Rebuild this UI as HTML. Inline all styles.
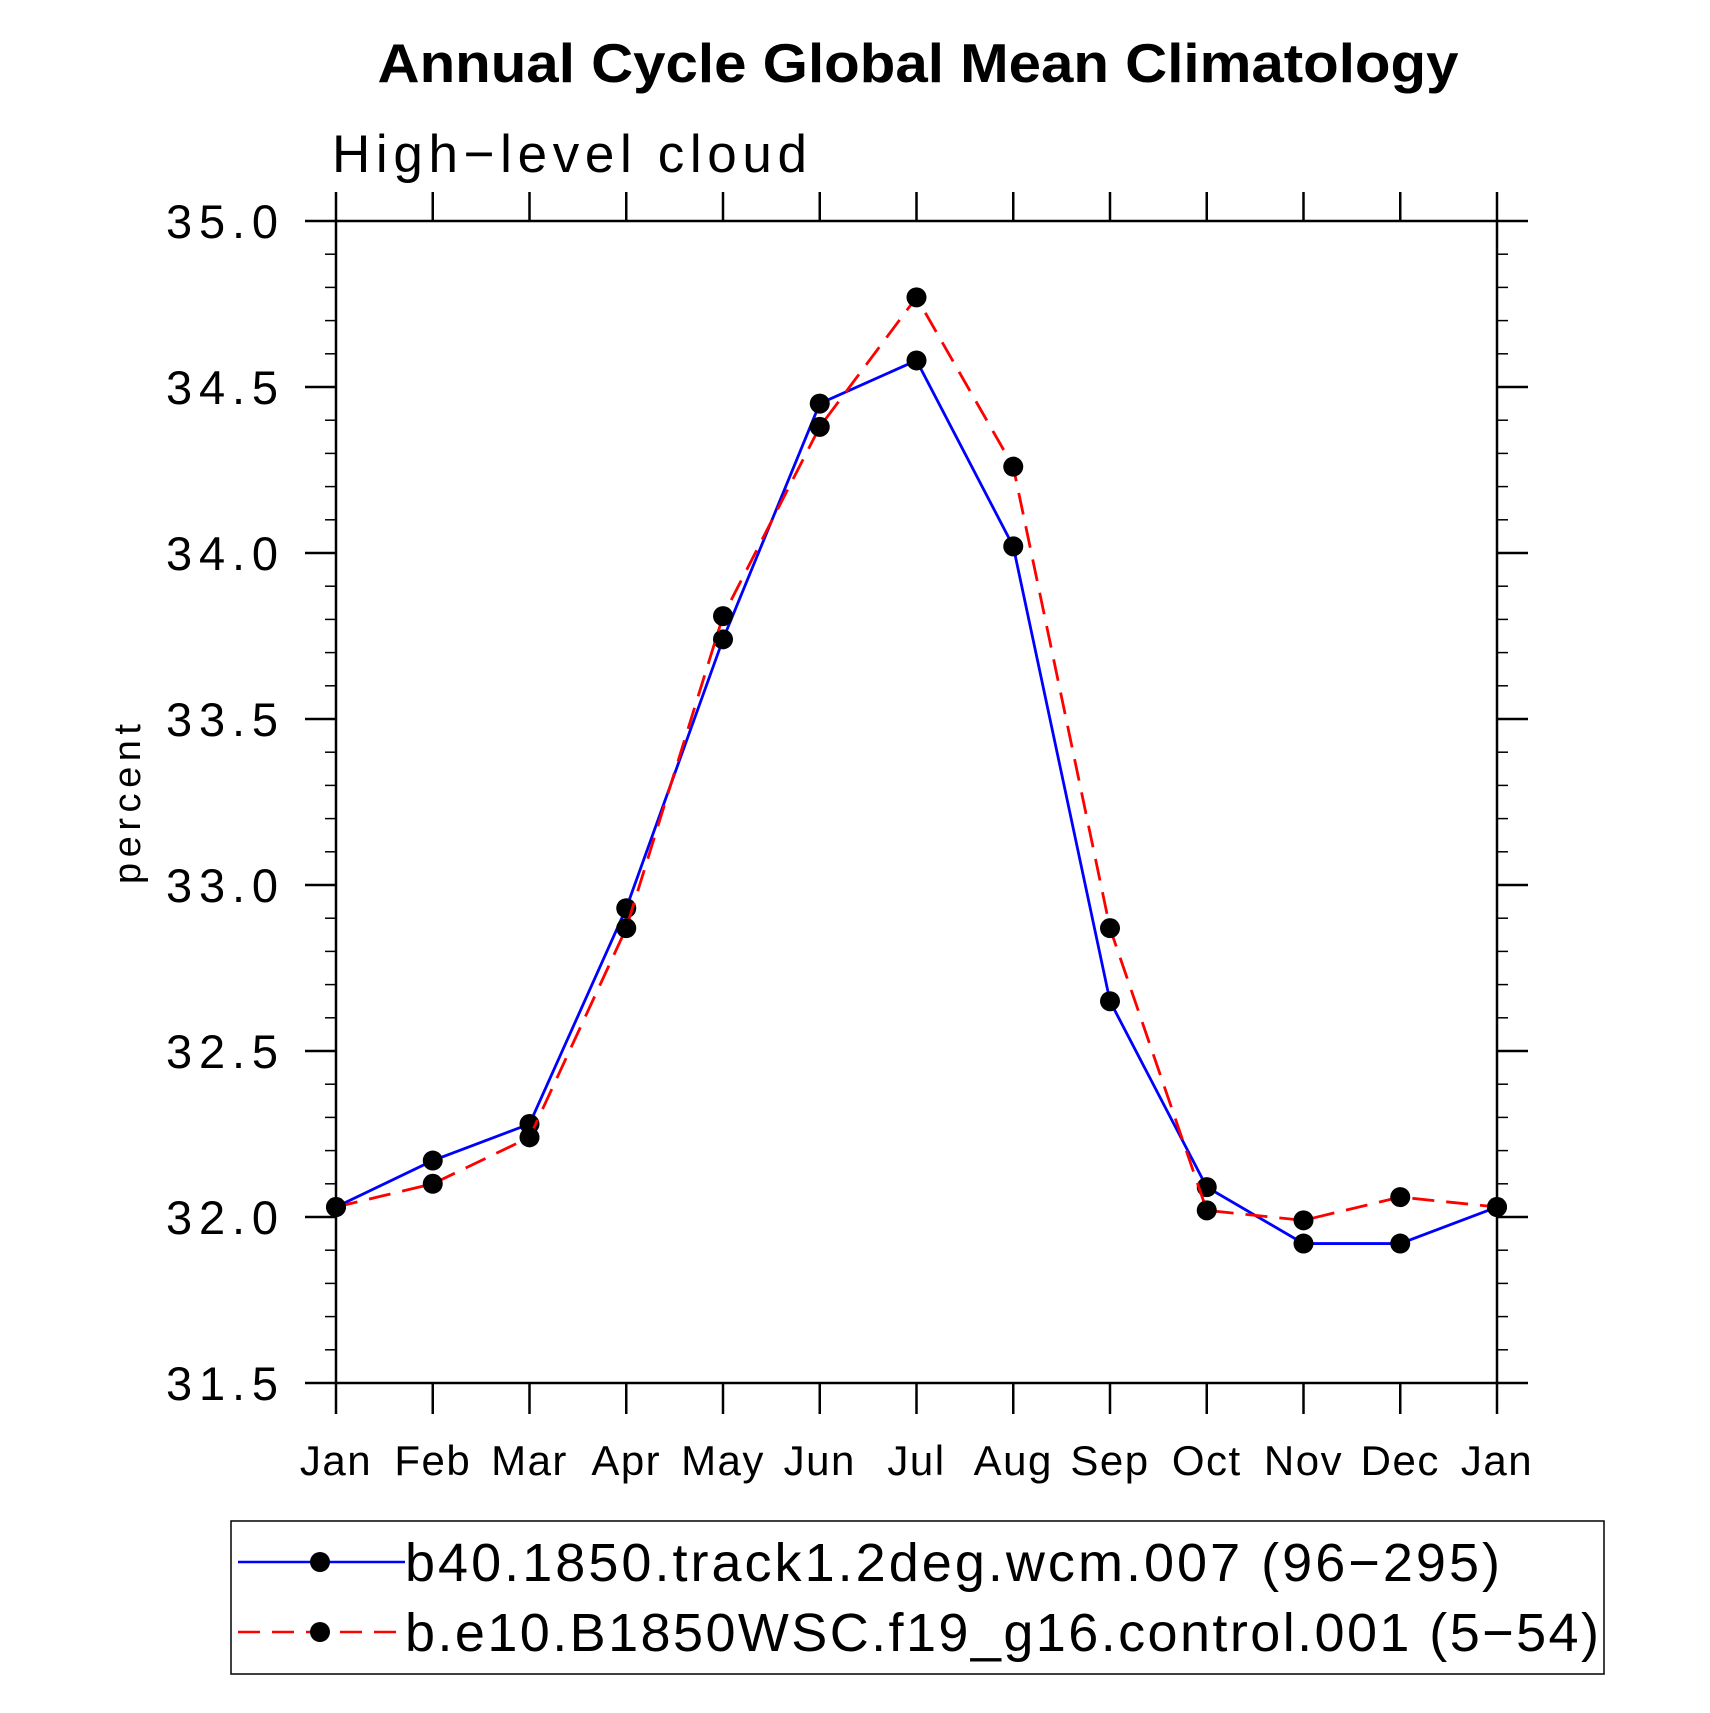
<!DOCTYPE html>
<html><head><meta charset="utf-8"><style>
html,body{margin:0;padding:0;background:#fff;}
svg{display:block;font-family:"Liberation Sans",sans-serif;}
</style></head><body>
<svg id="chart" width="1710" height="1713" viewBox="0 0 1710 1713" xmlns="http://www.w3.org/2000/svg">
<text x="918" y="82" text-anchor="middle" font-size="55" font-weight="bold" textLength="1081" lengthAdjust="spacingAndGlyphs">Annual Cycle Global Mean Climatology</text>
<text x="332" y="172" font-size="53" textLength="475" lengthAdjust="spacing">High−level cloud</text>
<text transform="translate(140,804) rotate(-90)" text-anchor="middle" font-size="38" textLength="160" lengthAdjust="spacing">percent</text>
<g id="axes"></g>
<g id="series"></g>
<g id="legend">
<rect x="231" y="1521" width="1373" height="153" fill="none" stroke="#000" stroke-width="1.5"/>
<line x1="238" y1="1562" x2="405" y2="1562" stroke="#0000ff" stroke-width="2.5"/>
<circle cx="320" cy="1562" r="10" fill="#000"/>
<text x="405" y="1581" font-size="54" textLength="1095" lengthAdjust="spacing">b40.1850.track1.2deg.wcm.007 (96−295)</text>
<line x1="238" y1="1632" x2="405" y2="1632" stroke="#ff0000" stroke-width="2.5" stroke-dasharray="22,12"/>
<circle cx="320" cy="1632" r="10" fill="#000"/>
<text x="405" y="1651" font-size="54" textLength="1194" lengthAdjust="spacing">b.e10.B1850WSC.f19_g16.control.001 (5−54)</text>
</g>
</svg>
<script>
const months = ["Jan","Feb","Mar","Apr","May","Jun","Jul","Aug","Sep","Oct","Nov","Dec","Jan"];
const blueValues = [32.03,32.17,32.28,32.93,33.74,34.45,34.58,34.02,32.65,32.09,31.92,31.92,32.03];
const redValues = [32.03,32.10,32.24,32.87,33.81,34.38,34.77,34.26,32.87,32.02,31.99,32.06,32.03];
const yTickLabels = ["31.5","32.0","32.5","33.0","33.5","34.0","34.5","35.0"];
const yMin = 31.5, yMax = 35.0;

const L=336,R=1497,T=221,B=1383;
const NS="http://www.w3.org/2000/svg";
const xS=i=>L+(R-L)*i/(months.length-1);
const yS=v=>B-(B-T)*(v-yMin)/(yMax-yMin);
function mk(tag,attrs,parent){const e=document.createElementNS(NS,tag);for(const k in attrs)e.setAttribute(k,attrs[k]);parent.appendChild(e);return e;}
const ax=document.getElementById('axes');
const frame=mk('rect',{x:L,y:T,width:R-L,height:B-T,fill:'none',stroke:'#000','stroke-width':2.5},ax);


yTickLabels.forEach(t=>{const y=yS(parseFloat(t));
 const a=mk('line',{x1:L-31,y1:y,x2:L,y2:y,stroke:'#000','stroke-width':2.5},ax);
 
 
 const b=mk('line',{x1:R,y1:y,x2:R+31,y2:y,stroke:'#000','stroke-width':2.5},ax);
 
 
 const tx=mk('text',{x:278,y:y+17,'text-anchor':'end','font-size':47,textLength:112,lengthAdjust:'spacing'},ax);
 tx.textContent=t;
 
 
});
for(let v=yMin;v<yMax-0.01;v+=0.1){const y=yS(v);
 const m=mk('line',{x1:L-11,y1:y,x2:L,y2:y,stroke:'#000','stroke-width':1.5},ax);
 
 
 const n=mk('line',{x1:R,y1:y,x2:R+11,y2:y,stroke:'#000','stroke-width':1.5},ax);
 
 
}
months.forEach((m,i)=>{const x=xS(i);
 const a=mk('line',{x1:x,y1:B,x2:x,y2:B+31,stroke:'#000','stroke-width':2.5},ax);
 
 
 const b=mk('line',{x1:x,y1:T-29,x2:x,y2:T,stroke:'#000','stroke-width':2.5},ax);
 
 
 const tx=mk('text',{x:x,y:1475,'text-anchor':'middle','font-size':42,'letter-spacing':1.5},ax);
 tx.textContent=m;
 
 
});
const se=document.getElementById('series');
function draw(vals,color,dash,name){
 const pts=vals.map((v,i)=>xS(i)+','+yS(v)).join(' ');
 const pl=mk('polyline',{points:pts,fill:'none',stroke:color,'stroke-width':2.8},se);
 if(dash)pl.setAttribute('stroke-dasharray',dash);
 
 
 vals.forEach((v,i)=>{const c=mk('circle',{cx:xS(i),cy:yS(v),r:10,fill:'#000'},se);
  
  });
}
draw(blueValues,'#0000ff',null,'b40-series');
draw(redValues,'#ff0000','22,12','be10-series');
</script>
</body></html>
